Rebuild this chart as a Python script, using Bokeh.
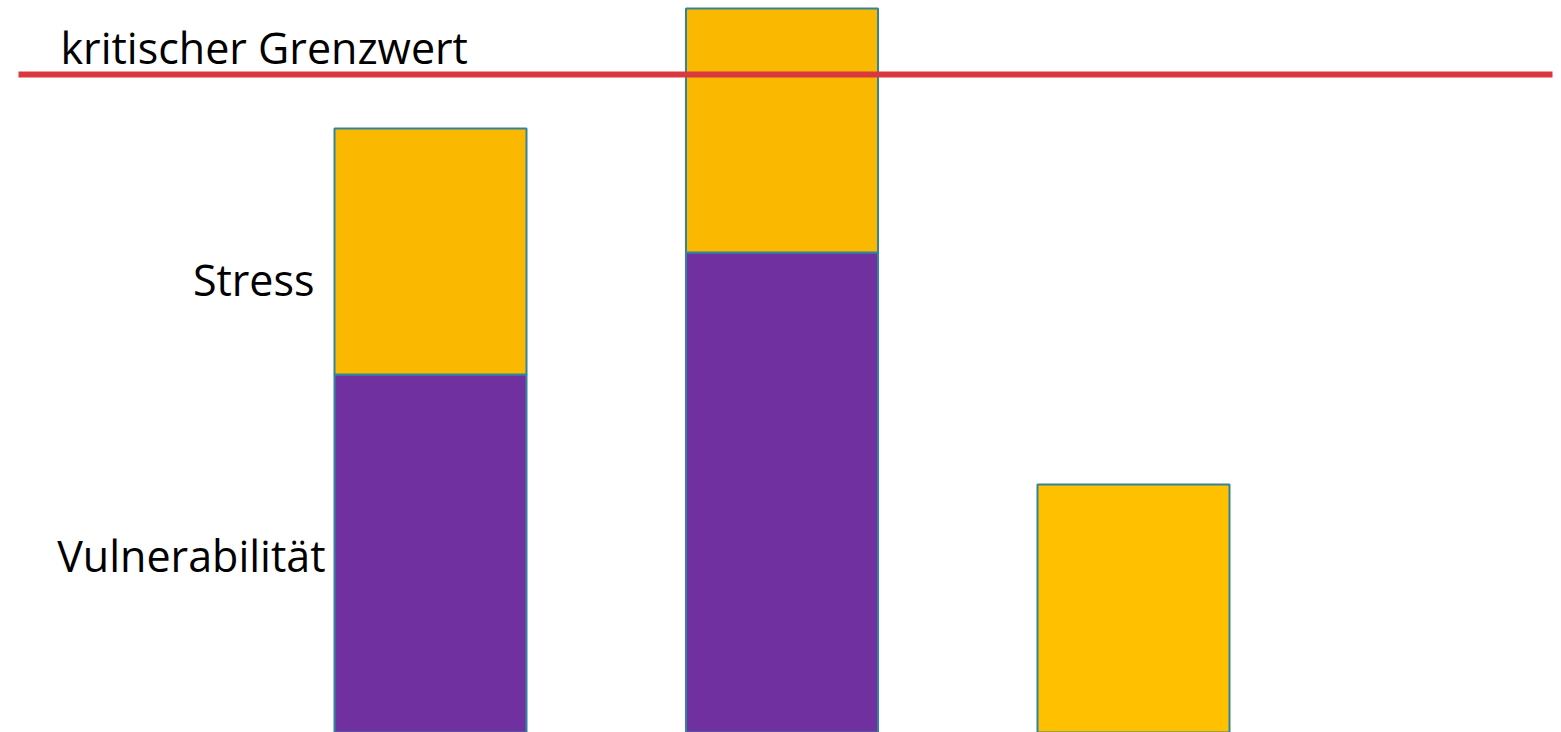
from bokeh.plotting import figure
from bokeh.models import Range1d
from bokeh.core.properties import value
from bokeh.embed import file_html
from bokeh.resources import INLINE

# data
cases = [1, 2, 3]
vulnerability = [3.58, 4.80, 0.0]
stress = [2.46, 2.44, 2.48]
threshold = 6.58
labels_series = ["Vulnerabilität", "Stress"]
threshold_label = "kritischer Grenzwert"

W, H = 1561, 732
px_per_unit = 351.5
x0 = 1 - 430 / px_per_unit
x1 = x0 + W / px_per_unit

p = figure(width=W, height=H, output_backend="svg", toolbar_location=None,
           x_range=Range1d(x0, x1), y_range=Range1d(0, 7.32),
           min_border=0, min_border_left=0, min_border_right=0,
           min_border_top=0, min_border_bottom=0)
p.axis.visible = False
p.grid.visible = False
p.outline_line_color = None
p.background_fill_color = "white"
p.border_fill_color = "white"

bw = 192 / px_per_unit
edge = "#31849B"
purple = "#7030A0"
orange_cols = ["#FAB800", "#FAB800", "#FFC000"]

bottoms = [v for v in vulnerability]
tops = [v + s for v, s in zip(vulnerability, stress)]

p.vbar(x=cases, bottom=0, top=vulnerability, width=bw,
       fill_color=purple, line_color=edge, line_width=2)
p.vbar(x=cases, bottom=bottoms, top=tops, width=bw,
       fill_color=orange_cols, line_color=edge, line_width=2)

# threshold line
lx0 = x0 + 18 / px_per_unit
lx1 = x0 + 1552 / px_per_unit
p.segment(x0=[lx0], y0=[threshold], x1=[lx1], y1=[threshold],
          line_color="#D9383F", line_width=6)

font = value("Open Sans")
fs = "43px"
p.text(x=[x0 + 60 / px_per_unit], y=[threshold + 0.27], text=[threshold_label],
       text_font=font, text_font_size=fs, text_align="left",
       text_baseline="middle", text_color="black")

# series labels, right-aligned next to the first bar
p.text(x=[x0 + 314 / px_per_unit], y=[vulnerability[0] + stress[0] / 2 - 0.28],
       text=[labels_series[1]], text_font=font, text_font_size=fs,
       text_align="right", text_baseline="middle", text_color="black")
p.text(x=[x0 + 325 / px_per_unit], y=[vulnerability[0] / 2 - 0.02],
       text=[labels_series[0]], text_font=font, text_font_size=fs,
       text_align="right", text_baseline="middle", text_color="black")

open("out.html", "w").write(file_html(p, INLINE))
